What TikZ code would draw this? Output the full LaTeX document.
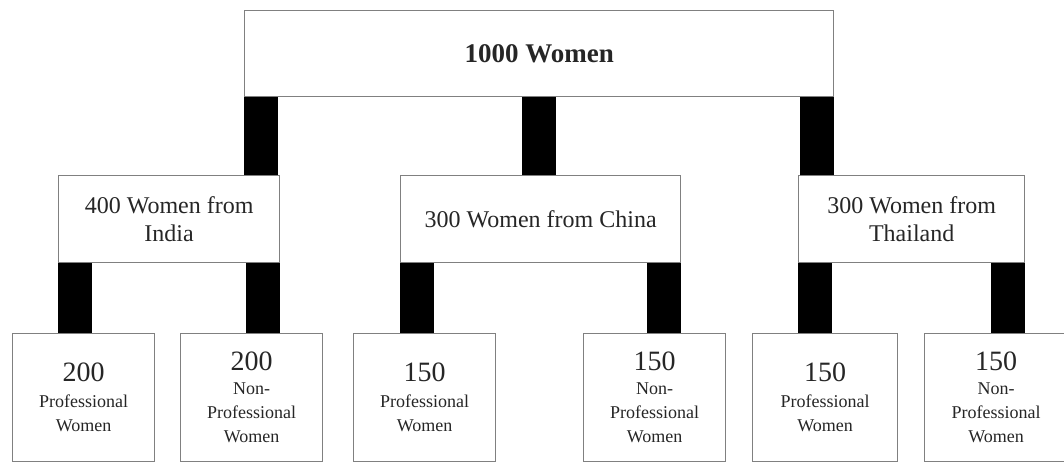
\documentclass[tikz,border=0pt]{standalone}
\usepackage{fontspec}
\setmainfont{Liberation Serif}
\begin{document}
\begin{tikzpicture}[x=1pt,y=-1pt,
  box/.style={draw=black!50, line width=1.3pt, fill=white, anchor=north west,
    inner sep=0pt, align=center, text=black!85},
  midbox/.style={box, minimum height=87pt, font=\fontsize{24}{28}\selectfont},
  lowbox/.style={box, minimum width=142pt, minimum height=128pt, font=\fontsize{18}{24}\selectfont},
  bar/.style={line width=34pt, black},
]
\useasboundingbox (0,0) rectangle (1064,462);
\newcommand{\bignum}[1]{{\fontsize{28}{28}\selectfont #1}}
% boxes
\node[box, minimum width=589pt, minimum height=86pt,
  font=\fontsize{27}{30}\selectfont\bfseries] (top) at (244,10) {1000 Women};
\node[midbox, minimum width=221pt] (india) at (58,175) {400 Women from\\India};
\node[midbox, minimum width=280pt] (china) at (400,175) {300 Women from China};
\node[midbox, minimum width=226pt] (thai) at (798,175) {300 Women from\\Thailand};
\node[lowbox] (b1) at (12,333) {\bignum{200}\\[2pt]Professional\\Women};
\node[lowbox] (b2) at (180,333) {\bignum{200}\\Non-\\Professional\\Women};
\node[lowbox] (b3) at (353,333) {\bignum{150}\\[2pt]Professional\\Women};
\node[lowbox] (b4) at (583,333) {\bignum{150}\\Non-\\Professional\\Women};
\node[lowbox, minimum width=145pt] (b5) at (752,333) {\bignum{150}\\[2pt]Professional\\Women};
\node[lowbox, minimum width=143pt] (b6) at (924,333) {\bignum{150}\\Non-\\Professional\\Women};
% bars
\draw[bar] ([xshift=17pt]top.south west) -- ([xshift=17pt]top.south west |- india.north);
\draw[bar] (top.south) -- (top.south |- china.north);
\draw[bar] ([xshift=-17pt]top.south east) -- ([xshift=-17pt]top.south east |- thai.north);
\draw[bar] ([xshift=17pt]india.south west) -- ([xshift=17pt]india.south west |- b1.north);
\draw[bar] ([xshift=-17pt]india.south east) -- ([xshift=-17pt]india.south east |- b2.north);
\draw[bar] ([xshift=17pt]china.south west) -- ([xshift=17pt]china.south west |- b3.north);
\draw[bar] ([xshift=-17pt]china.south east) -- ([xshift=-17pt]china.south east |- b4.north);
\draw[bar] ([xshift=17pt]thai.south west) -- ([xshift=17pt]thai.south west |- b5.north);
\draw[bar] ([xshift=-17pt]thai.south east) -- ([xshift=-17pt]thai.south east |- b6.north);
\end{tikzpicture}
\end{document}
